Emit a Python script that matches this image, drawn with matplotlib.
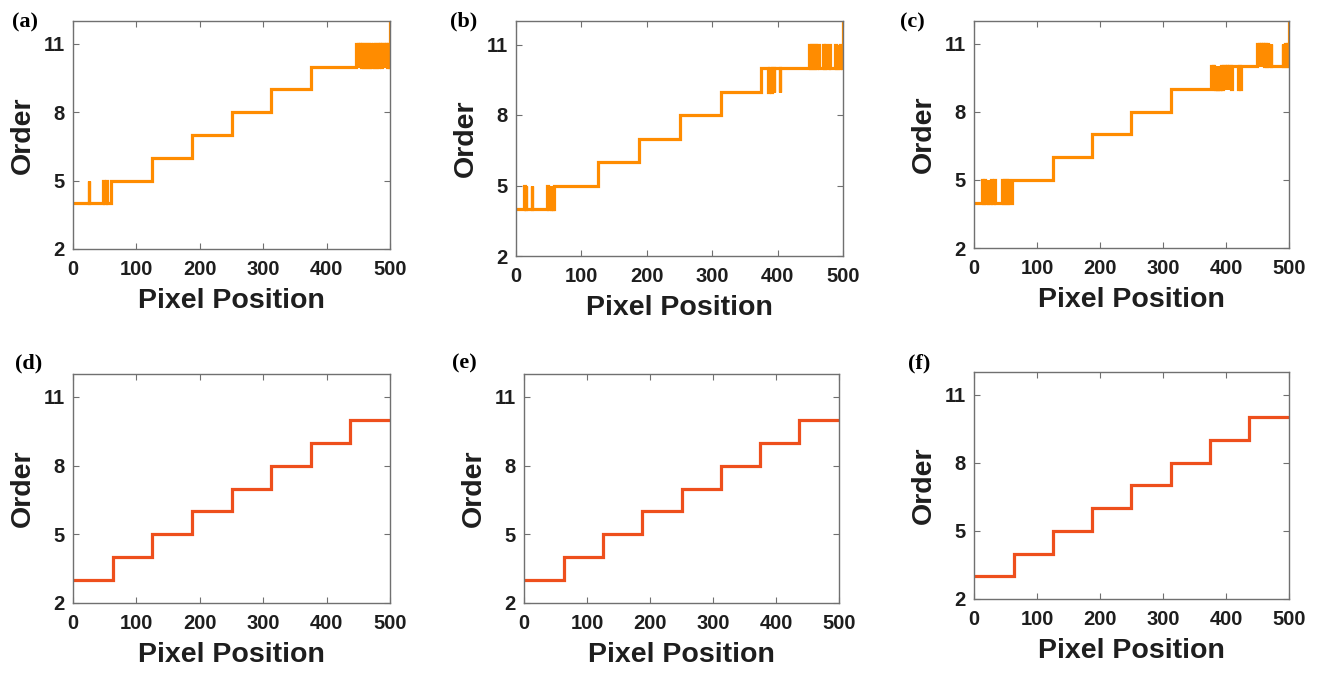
import matplotlib
matplotlib.use("Agg")
import matplotlib.pyplot as plt
import numpy as np

W, H = 1318, 673

pixel_ticks = [0, 100, 200, 300, 400, 500]
order_ticks = [2, 5, 8, 11]

# top row: measured order per pixel, stepped with flicker near the transitions
top_levels = [4, 5, 6, 7, 8, 9, 10]
top_edges_a = [0, 60, 125, 188, 250, 313, 375]
top_edges_b = [0, 58, 125, 188, 250, 313, 375]
top_edges_c = [0, 60, 125, 188, 250, 313, 376]
top_end_order = 12

# (start, stop, order) runs where the detected order deviates from the step
flicker_a = [
    (25, 26, 5), (48, 49, 5), (52, 53, 5),
    (447, 449, 11), (450, 452, 11), (453, 455, 11), (456, 458, 11),
    (459, 461, 11), (462, 464, 11), (465, 467, 11), (468, 470, 11),
    (473, 475, 11), (476, 478, 11), (479, 481, 11), (482, 484, 11),
    (485, 486, 11), (488, 490, 11), (491, 493, 11), (494, 496, 11),
    (497, 498, 11),
]
flicker_b = [
    (12, 13, 5), (15, 16, 5), (24, 25, 5),
    (48, 49, 5), (53, 54, 5), (56, 57, 5),
    (386, 387, 9), (390, 391, 9), (394, 395, 9), (403, 404, 9),
    (448, 450, 11), (451, 453, 11), (454, 456, 11), (457, 459, 11),
    (460, 463, 11), (470, 471, 11), (473, 474, 11), (479, 480, 11),
    (488, 489, 11), (492, 493, 11), (495, 498, 11),
]
flicker_c = [
    (13, 14, 5), (16, 17, 5), (22, 23, 5), (27, 28, 5), (32, 33, 5),
    (45, 46, 5), (48, 49, 5), (51, 52, 5), (54, 55, 5),
    (379, 380, 9), (381, 382, 9), (383, 385, 9), (386, 387, 9),
    (388, 390, 9), (391, 392, 9), (394, 396, 9), (398, 399, 9),
    (401, 402, 9), (404, 405, 9), (408, 409, 9), (419, 420, 9),
    (423, 424, 9),
    (450, 452, 11), (453, 455, 11), (456, 458, 11), (459, 461, 11),
    (462, 464, 11), (465, 467, 11), (471, 472, 11),
    (490, 491, 11), (494, 495, 11), (497, 498, 11),
]

# bottom row: clean staircase
bottom_levels = [3, 4, 5, 6, 7, 8, 9, 10]
bottom_edges = [0, 63, 125, 188, 250, 313, 375, 437]

TOP_COLOR = "#ff8c00"
BOTTOM_COLOR = "#ee4f1c"
FRAME_COLOR = "#707070"
TEXT_COLOR = "#1e1e1e"


def build_series(edges, levels, flicker=(), end_order=None):
    x = np.arange(501)
    idx = np.searchsorted(edges, x, side="right") - 1
    y = np.asarray(levels, dtype=float)[idx]
    for start, stop, order in flicker:
        y[start:stop] = order
    if end_order is not None:
        y[-1] = end_order
    return x, y


# panel -> (axes box in pixels: left, top, right, bottom), label corner, series
panels = [
    ("(a)", (73, 21, 390, 249), (12, 12),
     build_series(top_edges_a, top_levels, flicker_a, top_end_order), TOP_COLOR),
    ("(b)", (516, 21, 843, 256), (450, 11),
     build_series(top_edges_b, top_levels, flicker_b, top_end_order), TOP_COLOR),
    ("(c)", (974, 21, 1289, 248), (900, 12),
     build_series(top_edges_c, top_levels, flicker_c, top_end_order), TOP_COLOR),
    ("(d)", (73, 374, 390, 603), (15, 353),
     build_series(bottom_edges, bottom_levels), BOTTOM_COLOR),
    ("(e)", (524, 374, 839, 603), (452, 353),
     build_series(bottom_edges, bottom_levels), BOTTOM_COLOR),
    ("(f)", (974, 372, 1289, 599), (908, 353),
     build_series(bottom_edges, bottom_levels), BOTTOM_COLOR),
]

fig = plt.figure(figsize=(W / 100, H / 100), dpi=100)

for label, (l, t, r, b), (lx, ly), (x, y), color in panels:
    ax = fig.add_axes([l / W, 1 - b / H, (r - l) / W, (b - t) / H])
    ax.plot(x, y, drawstyle="steps-post", color=color, lw=2.3, solid_joinstyle="miter")
    ax.set_xlim(0, 500)
    ax.set_ylim(2, 12)
    ax.set_xticks(pixel_ticks)
    ax.set_yticks(order_ticks)
    ax.tick_params(direction="in", length=4, width=0.8, color=FRAME_COLOR,
                   top=True, right=True, labelsize=14.5)
    ax.tick_params(axis="x", pad=8)
    ax.tick_params(axis="y", pad=6)
    for tl in ax.get_xticklabels() + ax.get_yticklabels():
        tl.set_fontfamily("Liberation Sans")
        tl.set_fontweight("bold")
        tl.set_color(TEXT_COLOR)
    for spine in ax.spines.values():
        spine.set_color(FRAME_COLOR)
        spine.set_linewidth(1.0)

    w_px, h_px = r - l, b - t
    ax.set_xlabel("Pixel Position", fontsize=20.5, fontweight="bold",
                  fontfamily="Liberation Sans", color=TEXT_COLOR)
    ax.xaxis.set_label_coords(0.5, -39 / h_px)
    ax.xaxis.label.set_va("top")
    ax.set_ylabel("Order", fontsize=20.5, fontweight="bold",
                  fontfamily="Liberation Sans", color=TEXT_COLOR)
    ax.yaxis.set_label_coords(-37 / w_px, 0.5)

    fig.text(lx / W, 1 - ly / H, label, fontsize=16, fontweight="bold",
             fontfamily="Liberation Serif", ha="left", va="top")

fig.savefig("out.png", dpi=100)
